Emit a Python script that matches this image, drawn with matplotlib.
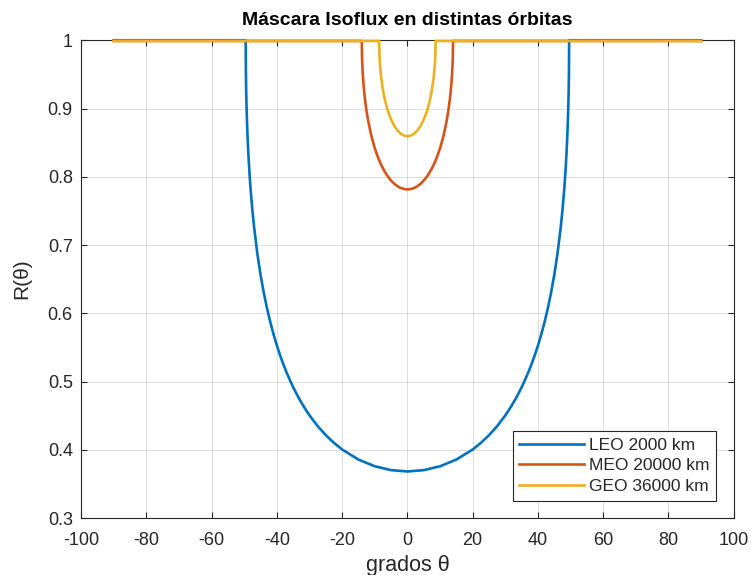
import matplotlib
matplotlib.use("Agg")
import matplotlib.pyplot as plt

# Normalised slant range R(theta) for each orbit, sampled in degrees.
leo_theta = [-90, -49.56, -49.5, -49.4, -49.3, -49.15, -49, -48.75, -48.5, -48.25, -48, -47.5, -47, -46, -45, -44,
             -43, -42, -41, -40, -39, -38, -37, -36, -35, -34, -33, -32, -31, -30, -27.5, -25, -22.5, -20, -15,
             -10, -5, 0, 5, 10, 15, 20, 22.5, 25, 27.5, 30, 31, 32, 33, 34, 35, 36, 37, 38, 39, 40, 41, 42, 43,
             44, 45, 46, 47, 47.5, 48, 48.25, 48.5, 48.75, 49, 49.15, 49.3, 49.4, 49.5, 49.56, 90]
leo_r = [1.0, 1.0, 0.9519, 0.9224, 0.9022, 0.8788, 0.8599, 0.8342, 0.8129, 0.7946, 0.7783, 0.7504, 0.7267, 0.6877,
         0.6561, 0.6296, 0.6067, 0.5866, 0.5688, 0.5527, 0.5382, 0.5250, 0.5130, 0.5019, 0.4916, 0.4822, 0.4734,
         0.4652, 0.4576, 0.4505, 0.4347, 0.4214, 0.4101, 0.4005, 0.3857, 0.3759, 0.3702, 0.3683, 0.3702, 0.3759,
         0.3857, 0.4005, 0.4101, 0.4214, 0.4347, 0.4505, 0.4576, 0.4652, 0.4734, 0.4822, 0.4916, 0.5019, 0.5130,
         0.5250, 0.5382, 0.5527, 0.5688, 0.5866, 0.6067, 0.6296, 0.6561, 0.6877, 0.7267, 0.7504, 0.7783, 0.7946,
         0.8129, 0.8342, 0.8599, 0.8788, 0.9022, 0.9224, 0.9519, 1.0, 1.0]

meo_theta = [-90, -13.98, -13.9, -13.8, -13.7, -13.5, -13.25, -13, -12.5, -12, -11, -10, -9, -8, -7, -6, -5, -4,
             -3, -2, -1, 0, 1, 2, 3, 4, 5, 6, 7, 8, 9, 10, 11, 12, 12.5, 13, 13.25, 13.5, 13.7, 13.8, 13.9, 13.98, 90]
meo_r = [0.999, 0.999, 0.9739, 0.9613, 0.9520, 0.9379, 0.9244, 0.9133, 0.8955, 0.8812, 0.8589, 0.8418, 0.8281,
         0.8170, 0.8079, 0.8004, 0.7944, 0.7896, 0.7860, 0.7835, 0.7820, 0.7815, 0.7820, 0.7835, 0.7860, 0.7896,
         0.7944, 0.8004, 0.8079, 0.8170, 0.8281, 0.8418, 0.8589, 0.8812, 0.8955, 0.9133, 0.9244, 0.9379, 0.9520,
         0.9613, 0.9739, 0.999, 0.999]

geo_theta = [-90, -8.648, -8.58, -8.5, -8.4, -8.3, -8.15, -8, -7.75, -7.5, -7.25, -7, -6.5, -6, -5, -4, -3, -2, -1,
             0, 1, 2, 3, 4, 5, 6, 6.5, 7, 7.25, 7.5, 7.75, 8, 8.15, 8.3, 8.4, 8.5, 8.58, 8.648, 90]
geo_r = [0.999, 0.999, 0.9812, 0.9725, 0.9646, 0.9583, 0.9506, 0.9441, 0.9350, 0.9273, 0.9207, 0.9149, 0.9049,
         0.8966, 0.8837, 0.8743, 0.8675, 0.8629, 0.8603, 0.8594, 0.8603, 0.8629, 0.8675, 0.8743, 0.8837, 0.8966,
         0.9049, 0.9149, 0.9207, 0.9273, 0.9350, 0.9441, 0.9506, 0.9583, 0.9646, 0.9725, 0.9812, 0.999, 0.999]

labels = ["LEO 2000 km", "MEO 20000 km", "GEO 36000 km"]
colors = ["#0072BD", "#D95319", "#EDB120"]

plt.rcParams["font.family"] = ["Liberation Sans", "DejaVu Sans"]
plt.rcParams["axes.unicode_minus"] = False
ink = "#262626"

fig = plt.figure(figsize=(7.51, 5.75), dpi=100)
ax = fig.add_axes([0.108, 0.099, 0.869, 0.831])

for th, r, lab, c in zip((leo_theta, meo_theta, geo_theta), (leo_r, meo_r, geo_r), labels, colors):
    ax.plot(th, r, color=c, linewidth=1.9, label=lab, clip_on=False, zorder=3)

ax.set_xlim(-100, 100)
ax.set_ylim(0.3, 1.0)
ax.set_xticks(range(-100, 101, 20))
ax.set_yticks([0.3, 0.4, 0.5, 0.6, 0.7, 0.8, 0.9, 1.0])
ax.set_yticklabels(["0.3", "0.4", "0.5", "0.6", "0.7", "0.8", "0.9", "1"])
ax.tick_params(direction="in", length=4.5, width=0.8, top=True, right=True, colors=ink, labelsize=13)
ax.tick_params(axis="x", pad=10)
ax.tick_params(axis="y", pad=6)
ax.grid(True, color=ink, alpha=0.15, linewidth=0.7)
for s in ax.spines.values():
    s.set_color(ink)
    s.set_linewidth(0.8)

ax.set_xlabel("grados θ", fontsize=15.5, color=ink, labelpad=4)
ax.set_ylabel("R(θ)", fontsize=15, color=ink, labelpad=12)
ax.set_title("Máscara Isoflux en distintas órbitas", fontsize=14, fontweight="bold", color="black", pad=11)

leg = ax.legend(loc="lower right", fontsize=12.5, frameon=True, fancybox=False, framealpha=1,
                edgecolor=ink, handlelength=3.7, borderpad=0.4, labelspacing=0.3,
                handletextpad=0.3, borderaxespad=1.0)
leg.get_frame().set_linewidth(0.8)
for t in leg.get_texts():
    t.set_color(ink)

fig.savefig("out.png", dpi=100)
plt.close(fig)
